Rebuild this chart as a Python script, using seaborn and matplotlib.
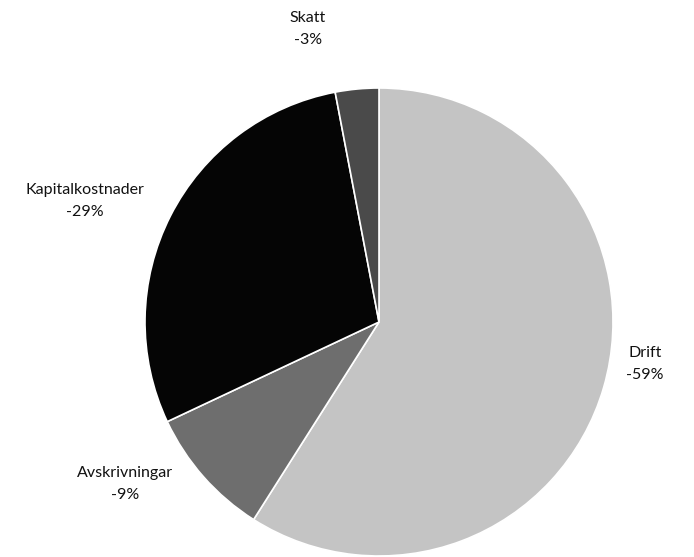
import matplotlib
matplotlib.use("Agg")
import matplotlib.pyplot as plt
import seaborn as sns

sns.set_theme(style="white")
plt.rcParams['font.family'] = ['Lato', 'DejaVu Sans']

# data
categories = ['Drift', 'Avskrivningar', 'Kapitalkostnader', 'Skatt']
shares = [59, 9, 29, 3]
value_labels = ['-59%', '-9%', '-29%', '-3%']
colors = ['#c4c4c4', '#6e6e6e', '#050505', '#4a4a4a']

# label placement (pixels, origin bottom-left)
label_pos = [(645, 193), (125, 73), (85, 356), (308, 528)]

fig = plt.figure(figsize=(6.94, 5.57), dpi=100)
ax = fig.add_axes([0, 0, 1, 1])

ax.pie(shares, colors=colors, startangle=90, counterclock=False,
       center=(379, 235), radius=234, frame=True,
       wedgeprops=dict(edgecolor='white', linewidth=1.2))
ax.set_xlim(0, 694)
ax.set_ylim(0, 557)
ax.axis('off')

for name, val, (x, y) in zip(categories, value_labels, label_pos):
    ax.text(x, y, f"{name}\n{val}", ha='center', va='center',
            fontsize=11.5, color='#111111', linespacing=1.8)

fig.savefig('out.png', dpi=100)
